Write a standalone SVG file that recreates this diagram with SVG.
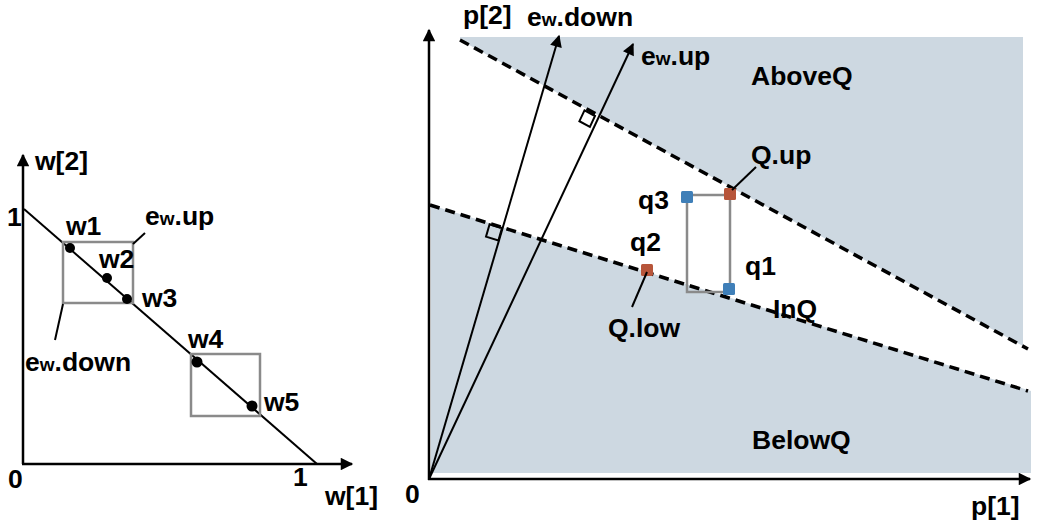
<svg xmlns="http://www.w3.org/2000/svg" width="1037" height="527" viewBox="0 0 1037 527">
<style>
text{font-family:"Liberation Sans",Arial,sans-serif;font-weight:bold;fill:#000}
.l{font-size:26.5px}
.r{font-size:26.5px}
.sm{font-size:19px}
.ax{stroke:#000;stroke-width:2.5;fill:none}
.ln{stroke:#000;stroke-width:2;fill:none}
.dash{stroke:#000;stroke-width:3.5;stroke-dasharray:10 6;fill:none}
.box{stroke:#8a8a8a;stroke-width:2.5;fill:none}
.shade{fill:#cdd8e1}
.dot{fill:#000}
.blue{fill:#3f7fb8}
.red{fill:#b7553a}
.ra{stroke:#000;stroke-width:2;fill:none}
</style>
<defs>
<marker id="ah" viewBox="0 0 10 10" refX="9" refY="5" markerWidth="5.5" markerHeight="5" orient="auto" markerUnits="strokeWidth">
<path d="M0,0 L10,5 L0,10 z" fill="#000"/>
</marker>
<marker id="ah2" viewBox="0 0 10 10" refX="9" refY="5" markerWidth="6.5" markerHeight="6" orient="auto" markerUnits="strokeWidth">
<path d="M0,0 L10,5 L0,10 z" fill="#000"/>
</marker>
</defs>

<!-- Left plot -->
<g id="left-axes">
<line class="ax" x1="23" y1="464" x2="23" y2="155" marker-end="url(#ah)"/>
<line class="ax" x1="22" y1="464" x2="352" y2="464" marker-end="url(#ah)"/>
<text class="l" x="35" y="170">w[2]</text>
<text class="l" x="325" y="505">w[1]</text>
<text class="l" x="7" y="226">1</text>
<text class="l" x="293" y="486">1</text>
<text class="l" x="8" y="488">0</text>
</g>
<g id="simplex-line">
<line class="ln" x1="24" y1="209" x2="317" y2="464"/>
</g>
<g id="box1"><rect class="box" x="63" y="242" width="70" height="61"/></g>
<g id="box2"><rect class="box" x="191" y="354" width="69" height="62"/></g>
<g id="w1"><circle class="dot" cx="70" cy="248" r="5"/><text class="l" x="66" y="235">w1</text></g>
<g id="w2"><circle class="dot" cx="107" cy="278" r="5"/><text class="l" x="99" y="268">w2</text></g>
<g id="w3"><circle class="dot" cx="127" cy="299" r="5"/><text class="l" x="142" y="307">w3</text></g>
<g id="w4"><circle class="dot" cx="197" cy="362" r="5.5"/><text class="l" x="188" y="348">w4</text></g>
<g id="w5"><circle class="dot" cx="252" cy="406" r="5.5"/><text class="l" x="264" y="411">w5</text></g>
<g id="left-labels">
<line class="ln" x1="133" y1="244" x2="145" y2="233"/>
<text class="l" x="145" y="225">e<tspan class="sm">w</tspan>.up</text>
<line class="ln" x1="63" y1="304" x2="55" y2="340"/>
<text class="l" x="25" y="371">e<tspan class="sm">w</tspan>.down</text>
</g>

<!-- Right plot -->
<g id="regions">
<polygon class="shade" points="460,37 1023,37 1023,346 460,40"/>
<polygon class="shade" points="431,205 1031,391 1031,473 431,473"/>
</g>
<g id="right-axes">
<line class="ax" x1="429" y1="480" x2="429" y2="30" marker-end="url(#ah)"/>
<line class="ax" x1="428" y1="479" x2="1030" y2="479" marker-end="url(#ah)"/>
<text class="r" x="463" y="24">p[2]</text>
<text class="r" x="971" y="515">p[1]</text>
<text class="r" x="405" y="503">0</text>
</g>
<g id="connectors">
<line class="dash" x1="460" y1="40" x2="1028" y2="349"/>
<line class="dash" x1="430" y1="205" x2="1028" y2="391"/>
<line class="ln" x1="429" y1="479" x2="559" y2="36" marker-end="url(#ah2)"/>
<line class="ln" x1="429" y1="479" x2="633" y2="44" marker-end="url(#ah2)"/>
<polygon class="ra" points="595,116 584.5,110.3 579.4,121.2 589.9,126.9"/>
<polygon class="ra" points="502,228 489.6,224.2 486,236.7 498.4,240.5"/>
</g>
<g id="ew-labels">
<text class="r" x="527" y="26">e<tspan class="sm">w</tspan>.down</text>
<text class="r" x="641" y="65">e<tspan class="sm">w</tspan>.up</text>
</g>
<g id="Q-box"><rect class="box" x="687" y="195" width="43" height="97"/></g>
<g id="q3"><rect class="blue" x="681" y="191" width="12" height="12" rx="1.5"/><text class="r" x="638" y="209">q3</text></g>
<g id="Q-up"><rect class="red" x="724" y="188" width="12" height="12" rx="1.5"/><line class="ln" x1="732" y1="190" x2="756" y2="167"/><text class="r" x="751" y="164">Q.up</text></g>
<g id="q1"><rect class="blue" x="723" y="283" width="12" height="12" rx="1.5"/><text class="r" x="745" y="275">q1</text></g>
<g id="q2"><rect class="red" x="641" y="264" width="12" height="12" rx="1.5"/><line class="ln" x1="647" y1="272" x2="632" y2="307"/><text class="r" x="630" y="251">q2</text><text class="r" x="608" y="337">Q.low</text></g>
<g id="region-labels">
<text class="r" x="751" y="85">AboveQ</text>
<text class="r" x="773" y="318">InQ</text>
<text class="r" x="752" y="449">BelowQ</text>
</g>
</svg>
